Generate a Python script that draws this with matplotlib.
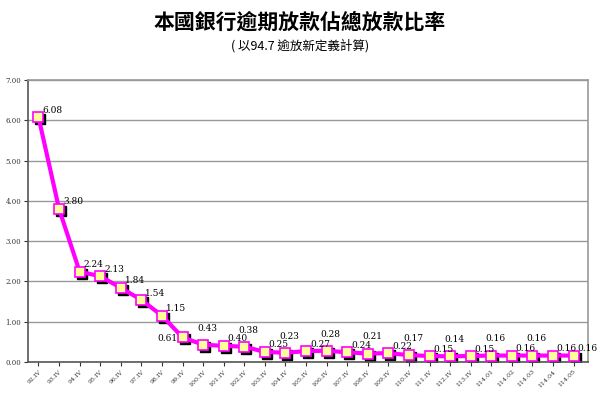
import matplotlib.pyplot as plt
import matplotlib.transforms as mtransforms
import numpy as np

categories = ['92.IV', '93.IV', '94.IV', '95.IV', '96.IV', '97.IV', '98.IV', '99.IV',
              '100.IV', '101.IV', '102.IV', '103.IV', '104.IV', '105.IV', '106.IV',
              '107.IV', '108.IV', '109.IV', '110.IV', '111.IV', '112.IV', '113.IV',
              '114.01', '114.02', '114.03', '114.04', '114.05']
ratios = [6.08, 3.80, 2.24, 2.13, 1.84, 1.54, 1.15, 0.61, 0.43, 0.40, 0.38, 0.25,
          0.23, 0.27, 0.28, 0.24, 0.21, 0.22, 0.17, 0.15, 0.14, 0.15, 0.16, 0.16,
          0.16, 0.16, 0.16]
yticks = np.arange(0, 7.01, 1.0)

fig = plt.figure(figsize=(6, 4), dpi=100)
ax = fig.add_axes([0.047, 0.095, 0.933, 0.705])
x = np.arange(len(categories))

# drop shadow under the markers
shadow = mtransforms.offset_copy(ax.transData, fig=fig, x=2, y=-2, units='dots')
ax.plot(x, ratios, 's', color='black', ms=7, zorder=2, transform=shadow)
ax.plot(x, ratios, '-s', color='#ff00ff', lw=3, ms=7, mfc='#ffff99',
        mec='#ff00ff', mew=1.2, zorder=3)

high = {8, 10, 12, 14, 16, 18, 20, 22, 24}
for i, v in enumerate(ratios):
    if i == 7:
        ax.annotate('%.2f' % v, (i, v), xytext=(-11, -1), textcoords='offset points',
                    fontsize=6.5, family='serif', ha='center', va='center')
        continue
    dy = 12 if i in high else 5
    dx = 3 if i in high else 10
    ax.annotate('%.2f' % v, (i, v), xytext=(dx, dy), textcoords='offset points',
                fontsize=6.5, family='serif', ha='center', va='center')

ax.set_xlim(-0.5, len(categories) - 0.3)
ax.set_ylim(0, 7)
ax.set_yticks(yticks)
ax.set_yticklabels(['%.2f' % t for t in yticks], fontsize=5, family='serif')
ax.set_xticks(x)
ax.set_xticklabels(categories, rotation=45, fontsize=4.5, family='serif',
                   ha='right', rotation_mode='anchor')
ax.yaxis.grid(True, color='#999999', lw=1)
ax.set_axisbelow(True)
for s in ax.spines.values():
    s.set_color('#999999')
    s.set_linewidth(1.2)
ax.spines['left'].set_color('#555555')
ax.spines['bottom'].set_color('#555555')
ax.tick_params(length=3, width=0.8, colors='#333333', pad=2)

fig.text(0.5, 0.945, '本國銀行逾期放款佔總放款比率', ha='center', va='center',
         fontsize=15, fontweight='bold', family='Noto Sans CJK TC')
fig.text(0.5, 0.885, '( 以94.7 逾放新定義計算)', ha='center', va='center',
         fontsize=9, family='Noto Sans CJK TC')

fig.savefig('out.png', dpi=100)
